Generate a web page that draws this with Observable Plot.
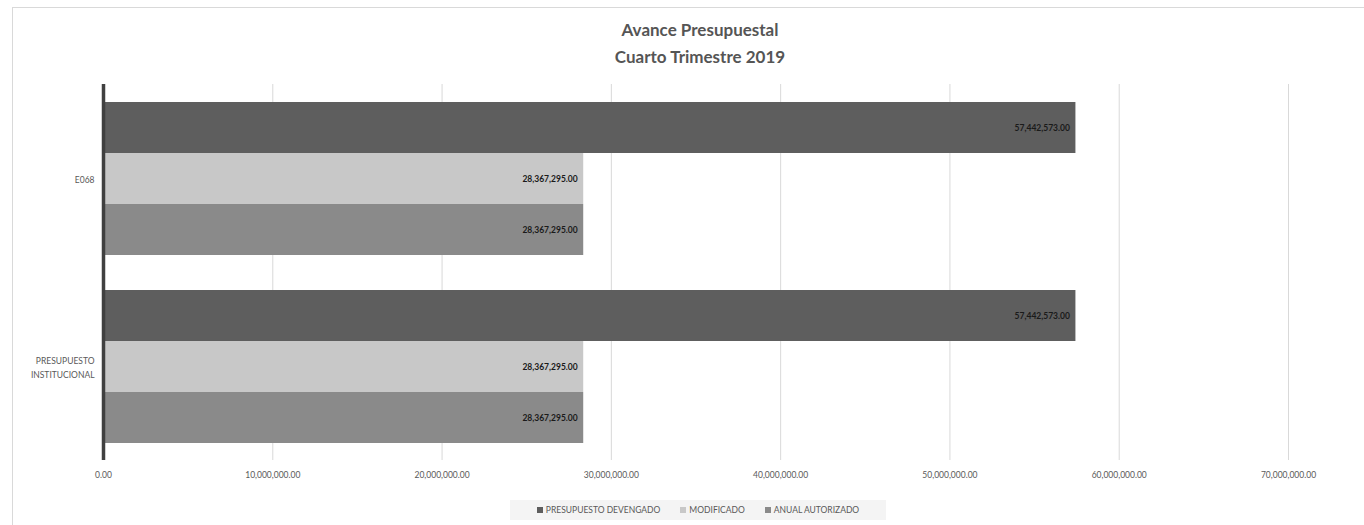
<!DOCTYPE html>
<html>
<head>
<meta charset="utf-8">
<script src="https://cdn.jsdelivr.net/npm/d3@7"></script>
<script src="https://cdn.jsdelivr.net/npm/@observablehq/plot@0.6"></script>
<style>
  html, body { margin: 0; padding: 0; background: #fff; }
  body { width: 1364px; height: 525px; position: relative; overflow: hidden; font-family: Lato, "Open Sans", sans-serif; }
  #frame { position: absolute; left: 12px; top: 7px; width: 1400px; height: 600px; border: 1px solid #d9d9d9; box-sizing: border-box; }
  #title { position: absolute; left: 0; width: 1400px; top: 16px; text-align: center; font-weight: bold; font-size: 17px; line-height: 27px; color: #555; }
  #chart { position: absolute; left: 0; top: 0; }
  #legend { position: absolute; left: 510px; top: 500px; width: 376px; height: 20px; background: #f4f4f4; display: flex; align-items: center; justify-content: center; gap: 20px; font-size: 8.5px; color: #595959; }
  #legend span.item { display: inline-flex; align-items: center; gap: 3px; }
  #legend i { display: inline-block; width: 6px; height: 6px; }
</style>
</head>
<body>
<div id="frame"></div>
<div id="title">Avance Presupuestal<br>Cuarto Trimestre 2019</div>
<div id="chart"></div>
<div id="legend"></div>
<script>
const categories = ["E068", "PRESUPUESTO INSTITUCIONAL"];
const series = ["PRESUPUESTO DEVENGADO", "MODIFICADO", "ANUAL AUTORIZADO"];
const devengado = [57442573, 57442573];
const modificado = [28367295, 28367295];
const anualAutorizado = [28367295, 28367295];
const xTicks = [0, 10000000, 20000000, 30000000, 40000000, 50000000, 60000000, 70000000];
const seriesColors = ["#5e5e5e", "#c8c8c8", "#8a8a8a"];

const seriesValues = [devengado, modificado, anualAutorizado];
const data = [];
categories.forEach((c, i) => {
  series.forEach((s, j) => {
    data.push({category: c, series: s, value: seriesValues[j][i]});
  });
});

const fmt = d3.format(",.2f");

const marks = [
  Plot.ruleX(xTicks.slice(1), {stroke: "#d9d9d9", strokeWidth: 1, strokeOpacity: 1, insetTop: -17, insetBottom: -17})
];
series.forEach((s, j) => {
  marks.push(Plot.barX(data.filter(d => d.series === s), {
    x: "value", y: "series", fy: "category", fill: seriesColors[j], insetLeft: 2
  }));
});
marks.push(Plot.text(data, {
  x: "value", y: "series", fy: "category", text: d => fmt(d.value),
  textAnchor: "end", dx: -6, fill: "#1a1a1a", fontSize: 8.5, fontWeight: "bold"
}));
marks.push(Plot.ruleX([0], {stroke: "#404040", strokeWidth: 3.5, insetTop: -17, insetBottom: -17}));
marks.push(Plot.axisX(xTicks, {tickSize: 0, tickPadding: 28, tickFormat: fmt, fontSize: 8.5, color: "#595959", label: null}));
marks.push(Plot.axisFy({anchor: "left", tickSize: 0, tickPadding: 9, fontSize: 8.5, color: "#595959", lineHeight: 1.6,
  tickFormat: d => d.replace(" ", "\n"), label: null}));

const chart = Plot.plot({
  width: 1364,
  height: 525,
  marginLeft: 103,
  marginRight: 76,
  marginTop: 84,
  marginBottom: 65,
  style: {fontFamily: "Lato, 'Open Sans', sans-serif", background: "transparent", color: "#595959"},
  x: {domain: [0, 70000000], axis: null, label: null},
  fy: {domain: categories, paddingInner: 0.181, paddingOuter: 0.0904, axis: null, label: null},
  y: {domain: series, padding: 0, axis: null, label: null},
  marks
});
document.getElementById("chart").appendChild(chart);

const legend = document.getElementById("legend");
series.forEach((s, j) => {
  const item = document.createElement("span");
  item.className = "item";
  item.innerHTML = `<i style="background:${seriesColors[j]}"></i>${s}`;
  legend.appendChild(item);
});
</script>
</body>
</html>
